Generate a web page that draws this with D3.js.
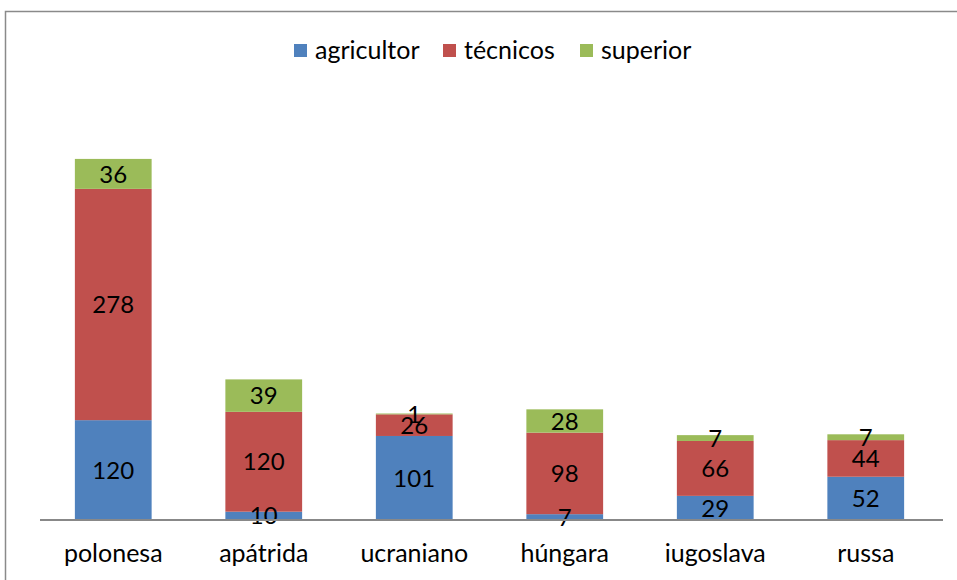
<!DOCTYPE html>
<html>
<head>
<meta charset="utf-8">
<script src="https://cdn.jsdelivr.net/npm/d3@7"></script>
<style>
  body { margin: 0; background: #fff; }
  svg text { font-family: Lato, "Open Sans", sans-serif; fill: #000; }
</style>
</head>
<body>
<div id="chart"></div>
<script>
let categories = ["polonesa", "apátrida", "ucraniano", "húngara", "iugoslava", "russa"];
let seriesNames = ["agricultor", "técnicos", "superior"];
let agricultor = [120, 10, 101, 7, 29, 52];
let tecnicos = [278, 120, 26, 98, 66, 44];
let superior = [36, 39, 1, 28, 7, 7];
let colors = ["#4F81BD", "#C0504D", "#9BBB59"];

let width = 957, height = 580;
let plot = {left: 40, right: 943, top: 104, bottom: 520};

let svg = d3.select("#chart").append("svg")
    .attr("width", width)
    .attr("height", height);

// outer frame
svg.append("rect")
    .attr("x", 5.5).attr("y", 11.5)
    .attr("width", 1000).attr("height", 1000)
    .attr("fill", "none")
    .attr("stroke", "#8a8a8a")
    .attr("stroke-width", 1.5);

let table = categories.map((c, i) => ({
    cat: c,
    agricultor: agricultor[i],
    "técnicos": tecnicos[i],
    superior: superior[i]
}));

let stack = d3.stack().keys(seriesNames);
let layers = stack(table);

let x = d3.scaleBand()
    .domain(categories)
    .range([plot.left - 2, plot.right - 2])
    .paddingInner(0.49)
    .paddingOuter(0.245);

let y = d3.scaleLinear()
    .domain([0, 500])
    .range([plot.bottom, plot.top]);

let groups = svg.selectAll("g.layer")
    .data(layers)
    .enter().append("g")
    .attr("class", "layer")
    .attr("fill", (d, i) => colors[i]);

groups.selectAll("rect")
    .data(d => d)
    .enter().append("rect")
    .attr("x", d => x(d.data.cat))
    .attr("y", d => y(d[1]))
    .attr("width", x.bandwidth())
    .attr("height", d => y(d[0]) - y(d[1]));

// data labels
layers.forEach(layer => {
    svg.append("g").selectAll("text")
        .data(layer)
        .enter().append("text")
        .attr("x", d => x(d.data.cat) + x.bandwidth() / 2)
        .attr("y", d => (y(d[0]) + y(d[1])) / 2)
        .attr("dy", "0.36em")
        .attr("text-anchor", "middle")
        .style("font-size", "24px")
        .text(d => d.data[layer.key]);
});

// x axis
let xAxis = svg.append("g")
    .attr("transform", "translate(0," + plot.bottom + ")")
    .call(d3.axisBottom(x).tickSize(0).tickPadding(24));
xAxis.select(".domain")
    .attr("d", "M" + plot.left + ",0H" + plot.right)
    .attr("stroke", "#888")
    .attr("stroke-width", 2);
xAxis.selectAll("text")
    .style("font-size", "25px")
    .style("font-family", "Lato, 'Open Sans', sans-serif")
    .attr("fill", "#000");

// legend
let legendX = [294, 443, 580];
let legend = svg.append("g");
seriesNames.forEach((s, i) => {
    legend.append("rect")
        .attr("x", legendX[i]).attr("y", 44)
        .attr("width", 13).attr("height", 13)
        .attr("fill", colors[i]);
    legend.append("text")
        .attr("x", legendX[i] + 21).attr("y", 59)
        .style("font-size", "25px")
        .text(s);
});
</script>
</body>
</html>
